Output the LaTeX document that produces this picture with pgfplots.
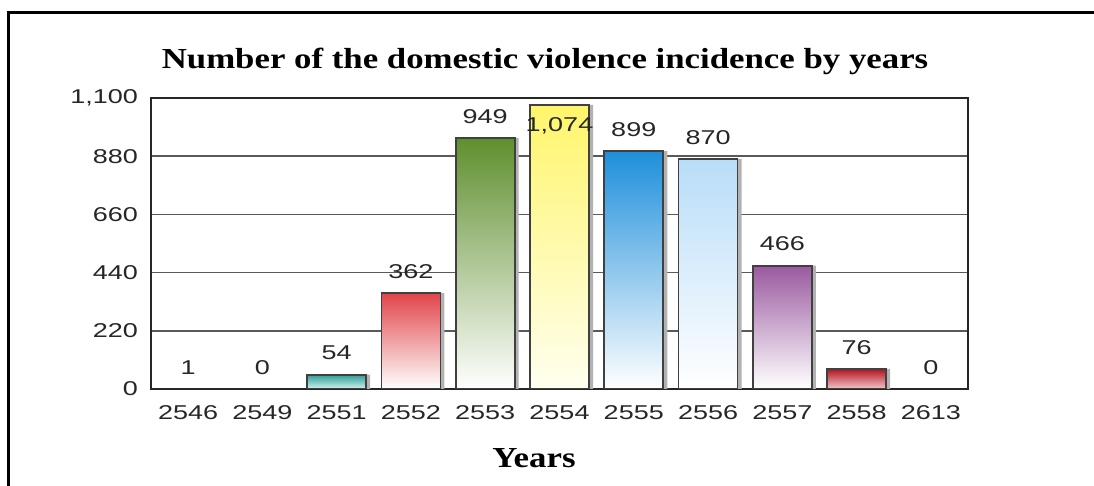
\documentclass[border=0pt]{standalone}
\usepackage{fontspec}
\setmainfont{Liberation Serif}
\newfontfamily\arialf{Liberation Sans}
\usepackage{graphicx}
\usepackage{pgfplots}
\pgfplotsset{compat=1.18}
\pgfkeys{/pgf/number format/assume math mode=true}

% the reference is stretched sideways, so the text is too
\newcommand\sx[1]{\scalebox{1.35}[1]{#1}}
\newcommand\st[1]{\scalebox{1.2}[1]{#1}}
\newcommand\labfont{\arialf\fontsize{10}{12}\selectfont}

\definecolor{cTeal}{HTML}{2E9E96}
\definecolor{cTealB}{HTML}{D5F2EF}
\definecolor{cRed}{HTML}{E0454A}
\definecolor{cGreen}{HTML}{5F8F2E}
\definecolor{cYellow}{HTML}{FFF56A}
\definecolor{cYellowB}{HTML}{FFFFF0}
\definecolor{cBlue}{HTML}{1E8FDB}
\definecolor{cLBlue}{HTML}{B8DDF8}
\definecolor{cPurple}{HTML}{9A5AA0}
\definecolor{cDRed}{HTML}{B0141E}
\definecolor{cDRedB}{HTML}{F4C8CC}

\pgfplotsset{
  vbar/.style={
    ybar, bar width=29.5pt, bar shift=0pt,
    draw=black!75, line width=0.9pt,
    nodes near coords={\sx{\pgfmathprintnumber{\pgfplotspointmeta}}},
    every node near coord/.append style={font=\labfont, text=black!85, yshift=3.5pt}
  }
}

\begin{document}
\begin{tikzpicture}[x=1pt,y=1pt]
  \path[use as bounding box] (0,0) rectangle (547,243);
  \draw[line width=1.5pt] (4,0) -- (4,236.5) -- (547,236.5);

  \node at (272.5,212.5) {\fontsize{14.5}{16}\selectfont\bfseries\st{Number of the domestic violence incidence by years}};
  \node at (267,14) {\fontsize{14.5}{16}\selectfont\bfseries\st{Years}};

  \begin{axis}[
    at={(75.5pt,48.5pt)}, anchor=south west,
    scale only axis, width=408.5pt, height=145.5pt,
    xmin=-0.5, xmax=10.5, ymin=0, ymax=1100,
    xtick={0,...,10},
    xticklabels={\sx{2546},\sx{2549},\sx{2551},\sx{2552},\sx{2553},\sx{2554},\sx{2555},\sx{2556},\sx{2557},\sx{2558},\sx{2613}},
    ytick={0,220,440,660,880,1100},
    yticklabels={\sx{0},\sx{220},\sx{440},\sx{660},\sx{880},{\sx{1,100}}},
    major tick length=0pt,
    ymajorgrids,
    grid style={black!65, line width=0.8pt},
    axis line style={black!85, line width=1pt},
    tick label style={font=\labfont, text=black!85},
    xticklabel style={yshift=-4.5pt},
    yticklabel style={xshift=-3pt},
  ]
    % shadow behind the bars
    \addplot[ybar, bar width=29.5pt, bar shift=2pt, fill=black!30, draw=none]
      coordinates {(2,54) (3,362) (4,949) (5,1074) (6,899) (7,870) (8,466) (9,76)};

    \addplot[vbar, draw=none] coordinates {(0,1)};
    \addplot[vbar, draw=none] coordinates {(1,0)};
    \addplot[vbar, top color=cTeal, bottom color=cTealB] coordinates {(2,54)};
    \addplot[vbar, top color=cRed, bottom color=white] coordinates {(3,362)};
    \addplot[vbar, top color=cGreen, bottom color=white] coordinates {(4,949)};
    \addplot[vbar, top color=cYellow, bottom color=cYellowB,
      every node near coord/.append style={yshift=-22pt}] coordinates {(5,1074)};
    \addplot[vbar, top color=cBlue, bottom color=white] coordinates {(6,899)};
    \addplot[vbar, top color=cLBlue, bottom color=white] coordinates {(7,870)};
    \addplot[vbar, top color=cPurple, bottom color=white] coordinates {(8,466)};
    \addplot[vbar, top color=cDRed, bottom color=cDRedB] coordinates {(9,76)};
    \addplot[vbar, draw=none] coordinates {(10,0)};
  \end{axis}
\end{tikzpicture}
\end{document}
